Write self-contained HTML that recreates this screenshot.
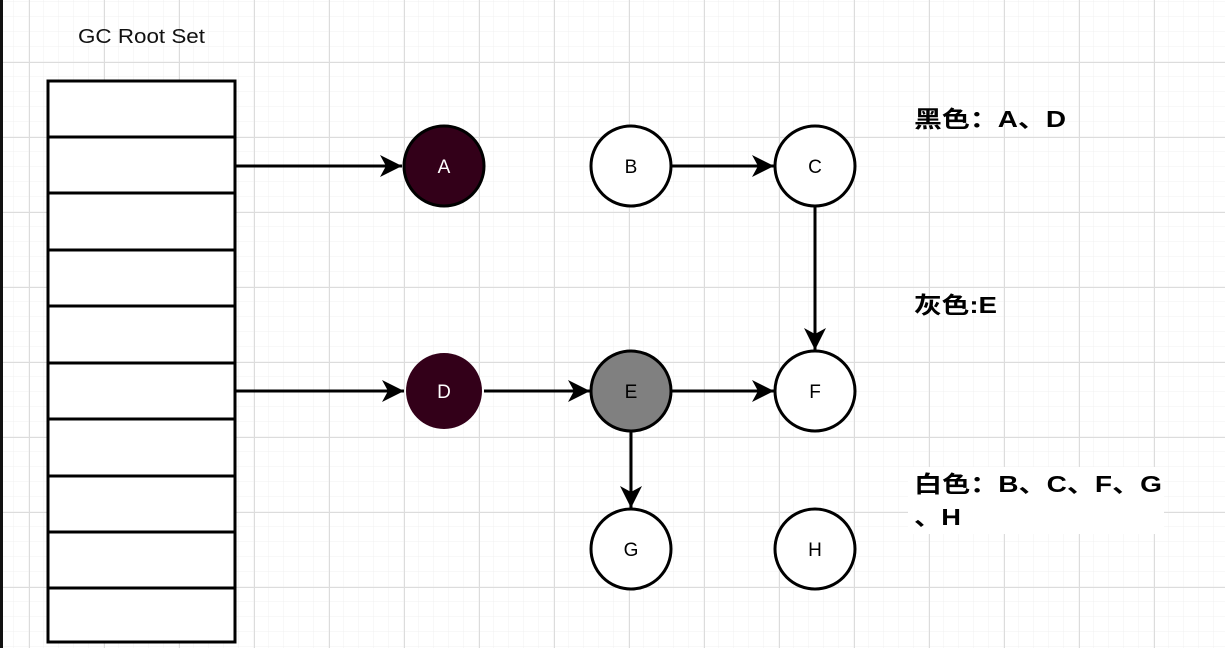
<!DOCTYPE html>
<html><head><meta charset="utf-8"><style>
html,body{margin:0;padding:0;background:#fff}
svg{display:block}
</style></head><body>
<svg width="1225" height="648" viewBox="0 0 1225 648" xmlns="http://www.w3.org/2000/svg">
<defs>
<pattern id="minor" x="-1" y="2" width="15" height="15" patternUnits="userSpaceOnUse">
<path d="M15 0V15M0 15H15" stroke="#f0f0f0" stroke-width="1" fill="none"/>
</pattern>
<pattern id="major" x="29" y="62" width="75" height="75" patternUnits="userSpaceOnUse">
<path d="M0.5 0V75M0 0.5H75" stroke="#dcdcdc" stroke-width="1" fill="none"/>
</pattern>
<marker id="ar" markerWidth="24" markerHeight="24" refX="22" refY="12" orient="auto" markerUnits="userSpaceOnUse">
<path d="M0 1 L22 12 L0 23 L6 12 Z" fill="#000"/>
</marker>
</defs>
<rect width="1225" height="648" fill="#fff"/>
<rect width="1225" height="648" fill="url(#minor)"/>
<rect width="1225" height="648" fill="url(#major)"/>
<rect x="0" y="0" width="3" height="648" fill="#111"/>

<text x="78" y="43" font-family="Liberation Sans, sans-serif" font-size="20" textLength="127" lengthAdjust="spacingAndGlyphs" fill="#111">GC Root Set</text>

<g stroke="#000" stroke-width="3" fill="#fff">
<rect x="48" y="81" width="187" height="561"/>
<path d="M48 137H235M48 193H235M48 250H235M48 306H235M48 363H235M48 419H235M48 476H235M48 532H235M48 588H235" fill="none"/>
</g>

<g stroke="#000" stroke-width="3" fill="none">
<line x1="235" y1="166" x2="402" y2="166" marker-end="url(#ar)"/>
<line x1="235" y1="391" x2="404" y2="391" marker-end="url(#ar)"/>
<line x1="484" y1="391" x2="590" y2="391" marker-end="url(#ar)"/>
<line x1="671" y1="391" x2="774" y2="391" marker-end="url(#ar)"/>
<line x1="671" y1="166" x2="774" y2="166" marker-end="url(#ar)"/>
<line x1="815" y1="206" x2="815" y2="350" marker-end="url(#ar)"/>
<line x1="631" y1="431" x2="631" y2="508" marker-end="url(#ar)"/>
</g>

<g font-family="Liberation Sans, sans-serif" font-size="19" text-anchor="middle">
<circle cx="444" cy="166" r="40" fill="#330019" stroke="#000" stroke-width="3"/>
<text x="444" y="173" fill="#fff">A</text>
<circle cx="444" cy="391" r="38" fill="#330019"/>
<text x="444" y="398" fill="#fff">D</text>
<circle cx="631" cy="166" r="40" fill="#fff" stroke="#000" stroke-width="3"/>
<text x="631" y="173">B</text>
<circle cx="815" cy="166" r="40" fill="#fff" stroke="#000" stroke-width="3"/>
<text x="815" y="173">C</text>
<circle cx="631" cy="391" r="40" fill="#808080" stroke="#000" stroke-width="3"/>
<text x="631" y="398">E</text>
<circle cx="815" cy="391" r="40" fill="#fff" stroke="#000" stroke-width="3"/>
<text x="815" y="398">F</text>
<circle cx="631" cy="549" r="40" fill="#fff" stroke="#000" stroke-width="3"/>
<text x="631" y="556">G</text>
<circle cx="815" cy="549" r="40" fill="#fff" stroke="#000" stroke-width="3"/>
<text x="815" y="556">H</text>
</g>

<rect x="908" y="467" width="256" height="67" fill="#fff"/>
<g font-family="Liberation Sans, Noto Sans CJK SC, sans-serif" font-size="23" font-weight="bold" fill="#000" lengthAdjust="spacingAndGlyphs">
<text x="914" y="127" textLength="152" lengthAdjust="spacingAndGlyphs">黑色：A、D</text>
<text x="914" y="313" textLength="83" lengthAdjust="spacingAndGlyphs">灰色:E</text>
<text x="914" y="492" textLength="248" lengthAdjust="spacingAndGlyphs">白色：B、C、F、G</text>
<text x="914" y="525" textLength="47" lengthAdjust="spacingAndGlyphs">、H</text>
</g>
</svg>
</body></html>
